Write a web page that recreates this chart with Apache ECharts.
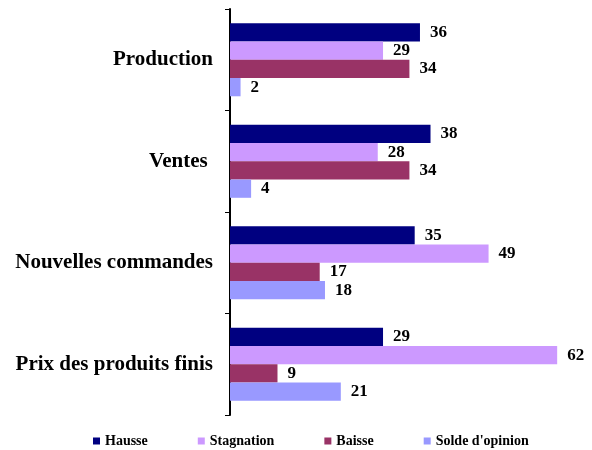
<!DOCTYPE html>
<html><head><meta charset="utf-8">
<script src="https://cdn.jsdelivr.net/npm/echarts@6/dist/echarts.min.js"></script>
<style>html,body{margin:0;padding:0;background:#fff}#c{width:592px;height:450px}</style>
</head><body><div id="c"></div>
<script>
var categories = ['Production', 'Ventes ', 'Nouvelles commandes', 'Prix des produits finis'];
var seriesNames = ['Hausse', 'Stagnation', 'Baisse', "Solde d'opinion"];
var hausse = [36, 38, 35, 29];
var stagnation = [29, 28, 49, 62];
var baisse = [34, 34, 17, 9];
var solde = [2, 4, 18, 21];
var colors = ['#000080', '#CC99FF', '#993366', '#9999FF'];
var values = [hausse, stagnation, baisse, solde];
var font = "'Liberation Serif', 'DejaVu Serif', serif";
var chart = echarts.init(document.getElementById('c'));
chart.setOption({
  animation: false,
  textStyle: {fontFamily: font},
  grid: {left: 230, right: 19, top: 9, bottom: 35},
  legend: {
    top: 429, left: 88, itemWidth: 7, itemHeight: 7, itemGap: 50,
    icon: 'rect',
    textStyle: {fontFamily: font, fontSize: 14, fontWeight: 'bold', color: '#000'},
    data: seriesNames
  },
  xAxis: {type: 'value', min: 0, max: 65, show: false},
  yAxis: {
    type: 'category', inverse: true, data: categories,
    axisLine: {lineStyle: {color: '#000', width: 2}},
    axisTick: {show: true, length: 5, lineStyle: {color: '#000', width: 1}},
    axisLabel: {fontFamily: font, fontSize: 21, fontWeight: 'bold', color: '#000', margin: 17},
    splitLine: {show: false}
  },
  series: seriesNames.map(function (n, i) {
    return {
      name: n, type: 'bar', data: values[i], barGap: '0%', barCategoryGap: '28%',
      itemStyle: {color: colors[i]},
      label: {show: true, position: 'right', distance: 10, fontFamily: font, fontSize: 17, fontWeight: 'bold', color: '#000'}
    };
  })
});
</script></body></html>
